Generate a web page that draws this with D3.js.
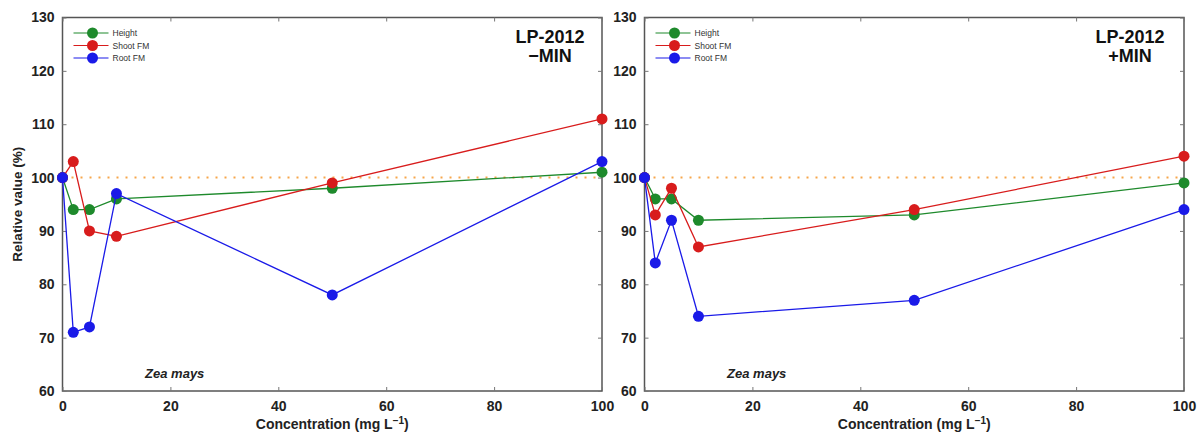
<!DOCTYPE html>
<html><head><meta charset="utf-8">
<script src="https://cdn.jsdelivr.net/npm/d3@7"></script>
<style>body{margin:0;background:#fff}svg{display:block;font-family:"Liberation Sans",Arial,sans-serif}</style>
</head><body><svg id="c" width="1204" height="437"></svg>
<script>
const concentrations = [0, 2, 5, 10, 50, 100];
const seriesNames = ["Height", "Shoot FM", "Root FM"];
const minusHeight = [100, 94, 94, 96, 98, 101];
const minusShoot = [100, 103, 90, 89, 99, 111];
const minusRoot = [100, 71, 72, 97, 78, 103];
const plusHeight = [100, 96, 96, 92, 93, 99];
const plusShoot = [100, 93, 98, 87, 94, 104];
const plusRoot = [100, 84, 92, 74, 77, 94];
const xTicks = [0, 20, 40, 60, 80, 100];
const yTicks = [60, 70, 80, 90, 100, 110, 120, 130];
const panelTitles = [["LP-2012", "\u2212MIN"], ["LP-2012", "+MIN"]];
const colors = ["#1e8a2c", "#d81c1c", "#1a1ae8"];

const svg = d3.select("#c");
const panels = [
  {x0: 62.5, x1: 602, data: [minusHeight, minusShoot, minusRoot], title: panelTitles[0], tx: 550},
  {x0: 644.5, x1: 1184, data: [plusHeight, plusShoot, plusRoot], title: panelTitles[1], tx: 1130}
];
const yTop = 17.5, yBot = 391;

panels.forEach((p, pi) => {
  const x = d3.scaleLinear().domain([0, 100]).range([p.x0, p.x1]);
  const y = d3.scaleLinear().domain([60, 130]).range([yBot, yTop]);
  const g = svg.append("g");

  // frame
  g.append("rect").attr("x", p.x0).attr("y", yTop).attr("width", p.x1 - p.x0).attr("height", yBot - yTop)
    .attr("fill", "none").attr("stroke", "#555").attr("stroke-width", 1.5);

  // axes (ticks inside)
  const ax = d3.axisBottom(x).tickValues(xTicks).tickSize(-4).tickPadding(10);
  const gx = g.append("g").attr("transform", `translate(0,${yBot})`).call(ax);
  const axTop = d3.axisTop(x).tickValues(xTicks).tickSize(-4).tickFormat("");
  const gxt = g.append("g").attr("transform", `translate(0,${yTop})`).call(axTop);
  const ay = d3.axisLeft(y).tickValues(yTicks).tickSize(-4).tickPadding(8);
  const gy = g.append("g").attr("transform", `translate(${p.x0},0)`).call(ay);
  const ayr = d3.axisRight(y).tickValues(yTicks).tickSize(-4).tickFormat("");
  const gyr = g.append("g").attr("transform", `translate(${p.x1},0)`).call(ayr);
  [gx, gxt, gy, gyr].forEach(a => {
    a.select(".domain").remove();
    a.selectAll(".tick line").attr("stroke", "#777").attr("stroke-width", 1);
    a.selectAll(".tick text").attr("fill", "#222").attr("font-size", 14).attr("font-weight", "bold")
      .attr("font-family", "Liberation Sans, Arial, sans-serif");
  });

  // reference line at 100
  g.append("line").attr("x1", x(0)).attr("x2", x(100)).attr("y1", y(100)).attr("y2", y(100))
    .attr("stroke", "#f7a64a").attr("stroke-width", 2).attr("stroke-dasharray", "2,7");

  // series
  const line = d3.line().x((d, i) => x(concentrations[i])).y(d => y(d));
  p.data.forEach((vals, si) => {
    g.append("path").datum(vals).attr("d", line).attr("fill", "none")
      .attr("stroke", colors[si]).attr("stroke-width", 1.3);
    g.selectAll(null).data(vals).enter().append("circle")
      .attr("cx", (d, i) => x(concentrations[i])).attr("cy", d => y(d)).attr("r", 5.5)
      .attr("fill", colors[si]);
  });

  // legend
  const lx = p.x0 + 11;
  seriesNames.forEach((n, si) => {
    const ly = 33 + si * 12.5;
    g.append("line").attr("x1", lx).attr("x2", lx + 35).attr("y1", ly).attr("y2", ly)
      .attr("stroke", colors[si]).attr("stroke-width", 1.2);
    g.append("circle").attr("cx", lx + 19).attr("cy", ly).attr("r", 5.5).attr("fill", colors[si]);
    g.append("text").attr("x", lx + 39).attr("y", ly + 3).attr("font-size", 8.5).attr("fill", "#333").text(n);
  });

  // title
  g.append("text").attr("x", p.tx).attr("y", 43).attr("text-anchor", "middle")
    .attr("font-size", 18).attr("font-weight", "bold").attr("fill", "#111").text(p.title[0]);
  g.append("text").attr("x", p.tx).attr("y", 62).attr("text-anchor", "middle")
    .attr("font-size", 18).attr("font-weight", "bold").attr("fill", "#111").text(p.title[1]);

  // species label
  g.append("text").attr("x", x(20.8)).attr("y", 378).attr("text-anchor", "middle")
    .attr("font-size", 13).attr("font-weight", "bold").attr("font-style", "italic").attr("fill", "#222").text("Zea mays");

  // x axis title
  const xt = g.append("text").attr("x", (p.x0 + p.x1) / 2).attr("y", 429).attr("text-anchor", "middle")
    .attr("font-size", 14).attr("font-weight", "bold").attr("fill", "#222");
  xt.append("tspan").text("Concentration (mg L");
  xt.append("tspan").attr("dy", -5).attr("font-size", 10).text("\u22121");
  xt.append("tspan").attr("dy", 5).text(")");
});

// y axis title
svg.append("text").attr("transform", `translate(22,${(yTop + yBot) / 2}) rotate(-90)`)
  .attr("text-anchor", "middle").attr("font-size", 13.5).attr("font-weight", "bold").attr("fill", "#222")
  .text("Relative value (%)");
</script></body></html>
